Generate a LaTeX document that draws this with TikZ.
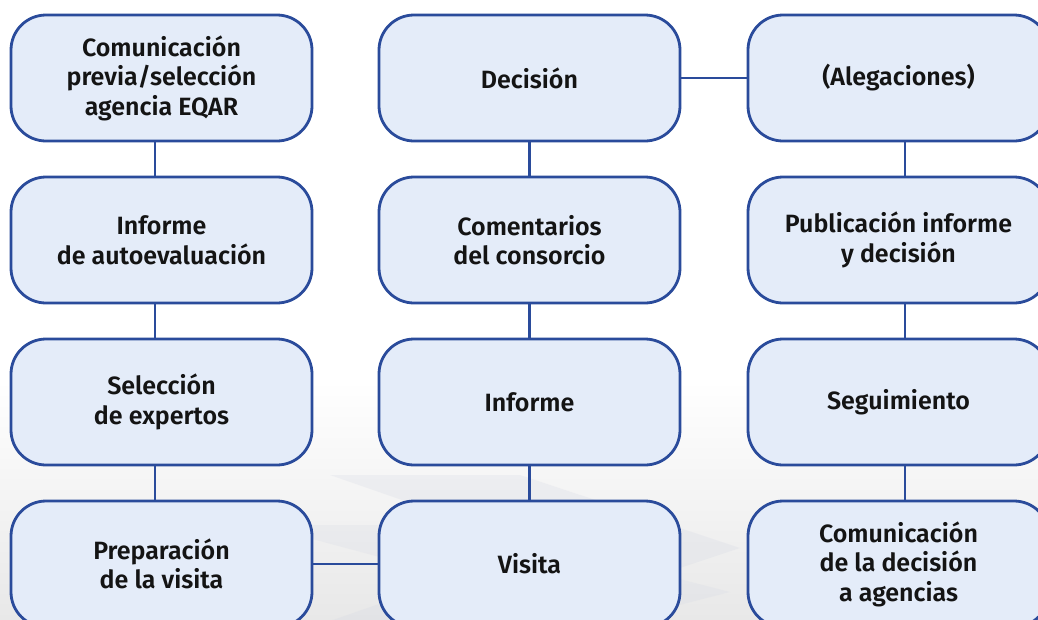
\documentclass[tikz,border=0pt]{standalone}
\usepackage{fontspec}
\setmainfont{Fira Sans}
\newfontfamily\boxfont{Fira Sans SemiBold}
\definecolor{boxfill}{HTML}{E4ECF9}
\definecolor{boxline}{HTML}{2A4B9B}
\definecolor{chev}{HTML}{D3D7E3}
\begin{document}
\begin{tikzpicture}[x=1pt,y=-1pt,
  stepbox/.style={draw=boxline, line width=2.8pt, fill=boxfill, rounded corners=35pt,
    minimum width=301pt, minimum height=126pt, align=center, inner sep=0pt,
    font=\boxfont\fontsize{25}{29.5}\selectfont, text=black!92},
  link/.style={draw=boxline, line width=2.2pt}]
\useasboundingbox (0,0) rectangle (1038,619);
% background
\fill[white] (0,0) rectangle (1038,619);
\shade[top color=white, bottom color=black!9] (0,380) rectangle (1038,619);
\fill[chev, opacity=0.25] (330,475) -- (520,475) -- (740,548) -- (520,621) -- (330,621) -- (540,548) -- cycle;
\fill[chev, opacity=0.22] (260,525) -- (470,525) -- (730,592) -- (470,659) -- (260,659) -- (510,592) -- cycle;
% nodes
\node[stepbox] (a1) at (161.5,78) {Comunicación\\previa/selección\\agencia EQAR};
\node[stepbox] (a2) at (161.5,240) {Informe\\de autoevaluación};
\node[stepbox] (a3) at (161.5,402) {Selección\\de expertos};
\node[stepbox] (a4) at (161.5,564) {Preparación\\de la visita};
\node[stepbox] (b1) at (529.5,78) {Decisión};
\node[stepbox] (b2) at (529.5,240) {Comentarios\\del consorcio};
\node[stepbox] (b3) at (529.5,402) {Informe};
\node[stepbox] (b4) at (529.5,564) {Visita};
\node[stepbox] (c1) at (898.5,78) {(Alegaciones)};
\node[stepbox] (c2) at (898.5,240) {Publicación informe\\y decisión};
\node[stepbox] (c3) at (898.5,402) {Seguimiento};
\node[stepbox] (c4) at (898.5,564) {Comunicación\\de la decisión\\a agencias};
% connectors
\draw[link] ([xshift=-6.5pt]a1.south) -- ([xshift=-6.5pt]a2.north);
\draw[link] ([xshift=-6.5pt]a2.south) -- ([xshift=-6.5pt]a3.north);
\draw[link] ([xshift=-6.5pt]a3.south) -- ([xshift=-6.5pt]a4.north);
\draw[link] (b1.south) -- (b2.north);
\draw[link] (b2.south) -- (b3.north);
\draw[link] (b3.south) -- (b4.north);
\draw[link] ([xshift=6.5pt]c1.south) -- ([xshift=6.5pt]c2.north);
\draw[link] ([xshift=6.5pt]c2.south) -- ([xshift=6.5pt]c3.north);
\draw[link] ([xshift=6.5pt]c3.south) -- ([xshift=6.5pt]c4.north);
\draw[link] (a4.east) -- (b4.west);
\draw[link] (b1.east) -- (c1.west);
\end{tikzpicture}
\end{document}
